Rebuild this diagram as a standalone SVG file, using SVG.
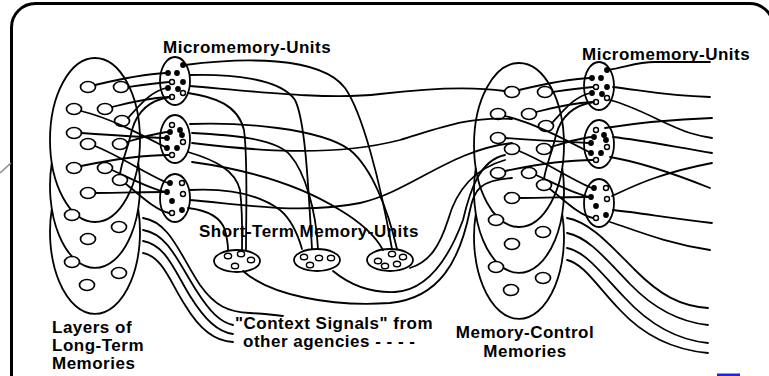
<svg xmlns="http://www.w3.org/2000/svg" width="769" height="376" viewBox="0 0 769 376">
<style>
.ln{fill:none;stroke:#000;stroke-width:1.8;stroke-linecap:round}
.el{fill:none;stroke:#000;stroke-width:1.8}
.cell{fill:#fff;stroke:#000;stroke-width:1.7}
.dot{fill:#000}
.od{fill:#fff;stroke:#000;stroke-width:1.4}
.t{font-family:"Liberation Sans",Arial,sans-serif;font-weight:bold;font-size:17px;letter-spacing:0.5px;fill:#000}
</style>
<defs>
<g id="layers">
<ellipse class="el" cx="95" cy="140" rx="45" ry="82"/>
<path class="el" d="M51.8,163 A45,82 0 1 0 138.2,163"/>
<path class="el" d="M51.8,209 A45,82 0 1 0 138.2,209"/>
<g class="cell">
<ellipse cx="88" cy="87" rx="7.5" ry="5.5"/><ellipse cx="121" cy="87" rx="7.5" ry="5.5"/>
<ellipse cx="74" cy="109" rx="7.5" ry="5.5"/><ellipse cx="105" cy="109" rx="7.5" ry="5.5"/>
<ellipse cx="122" cy="121" rx="7.5" ry="5.5"/><ellipse cx="74" cy="133" rx="7.5" ry="5.5"/>
<ellipse cx="88" cy="144" rx="7.5" ry="5.5"/><ellipse cx="120" cy="144" rx="7.5" ry="5.5"/>
<ellipse cx="74" cy="168" rx="7.5" ry="5.5"/><ellipse cx="105" cy="168" rx="7.5" ry="5.5"/>
<ellipse cx="120" cy="180" rx="7.5" ry="5.5"/><ellipse cx="88" cy="193" rx="7.5" ry="5.5"/>
<ellipse cx="72" cy="215" rx="7.5" ry="5.5"/><ellipse cx="119" cy="227" rx="7.5" ry="5.5"/>
<ellipse cx="88" cy="239" rx="7.5" ry="5.5"/><ellipse cx="72" cy="262" rx="7.5" ry="5.5"/>
<ellipse cx="119" cy="273" rx="7.5" ry="5.5"/><ellipse cx="87" cy="285" rx="7.5" ry="5.5"/>
</g>
</g>
<g id="micro1">
<ellipse class="el" cx="175" cy="81" rx="15" ry="24"/>
<circle class="dot" cx="183" cy="65" r="2.9"/><circle class="dot" cx="168" cy="73" r="2.9"/><circle class="dot" cx="177" cy="73" r="2.9"/>
<circle class="od" cx="172" cy="82" r="2.5"/><circle class="dot" cx="183" cy="82" r="2.9"/><circle class="dot" cx="168" cy="88" r="2.9"/>
<circle class="dot" cx="178" cy="89" r="2.9"/><circle class="od" cx="183" cy="93" r="2.5"/><circle class="od" cx="172" cy="97" r="2.5"/>
</g>
<g id="micro2">
<ellipse class="el" cx="175" cy="139" rx="15" ry="24"/>
<circle class="od" cx="172" cy="125" r="2.5"/><circle class="dot" cx="180" cy="130" r="2.9"/><circle class="dot" cx="170" cy="132" r="2.9"/>
<circle class="dot" cx="167" cy="138" r="2.9"/><circle class="dot" cx="182" cy="135" r="2.9"/><circle class="od" cx="183" cy="142" r="2.5"/>
<circle class="dot" cx="167" cy="148" r="2.9"/><circle class="dot" cx="177" cy="148" r="2.9"/><circle class="od" cx="172" cy="155" r="2.5"/>
</g>
<g id="micro3">
<ellipse class="el" cx="175" cy="198" rx="15" ry="24"/>
<circle class="dot" cx="170" cy="183" r="2.9"/><circle class="od" cx="182" cy="183" r="2.5"/><circle class="dot" cx="167" cy="192" r="2.9"/>
<circle class="od" cx="183" cy="194" r="2.5"/><circle class="dot" cx="172" cy="201" r="2.9"/><circle class="dot" cx="182" cy="210" r="2.9"/>
<circle class="od" cx="172" cy="213" r="2.5"/>
</g>
<g id="inner">
<path class="ln" d="M95,85 C120,79 145,74 166,73"/>
<path class="ln" d="M128.5,87 C142,85 155,83 169,82"/>
<path class="ln" d="M81,111 C110,118 140,134 165,147"/>
<path class="ln" d="M112,107 C135,101 150,98 169,97"/>
<path class="ln" d="M128,118 C140,105 150,92 166,88"/>
<path class="ln" d="M81.5,133 C110,135 140,137 165,138"/>
<path class="ln" d="M95,146 C120,156 148,175 168,183"/>
<path class="ln" d="M127,142 C140,138 155,133 168,132"/>
<path class="ln" d="M81,166 C110,160 140,155 169,155"/>
<path class="ln" d="M112,170 C130,178 148,188 165,192"/>
<path class="ln" d="M126,184 C140,195 155,210 169,213"/>
<path class="ln" d="M95.5,193 C120,193 145,192 165,192"/>
<path class="ln" d="M170,97 C150,100 137,112 132,130 C128,148 122,160 120,174"/>
</g>
</defs>

<rect x="11.5" y="3.5" width="762" height="420" rx="24" fill="none" stroke="#000" stroke-width="3"/>
<path d="M0,173 L11,163" stroke="#8a8a8a" stroke-width="1.5" fill="none"/>
<rect x="717" y="373.5" width="23" height="3" fill="#2020f0"/>

<g id="ltm-layers"><use href="#layers"/></g>
<g id="micro-left-1"><use href="#micro1"/></g>
<g id="micro-left-2"><use href="#micro2"/></g>
<g id="micro-left-3"><use href="#micro3"/></g>

<g id="memory-control" transform="translate(424,5)"><use href="#layers"/></g>
<g id="micro-right-1" transform="translate(424,5)"><use href="#micro1"/></g>
<g id="micro-right-2" transform="translate(424,5)"><use href="#micro2"/></g>
<g id="micro-right-3" transform="translate(424,5)"><use href="#micro3"/></g>

<g id="stm-1">
<ellipse class="el" cx="237" cy="261" rx="23" ry="11"/>
<ellipse class="od" cx="228" cy="256" rx="3.6" ry="2.8"/><ellipse class="od" cx="241" cy="254" rx="3.6" ry="2.8"/>
<ellipse class="od" cx="251" cy="260" rx="3.6" ry="2.8"/><ellipse class="od" cx="235" cy="266" rx="3.6" ry="2.8"/>
</g>
<g id="stm-2">
<ellipse class="el" cx="317" cy="260" rx="23" ry="11"/>
<ellipse class="od" cx="304" cy="257" rx="3.6" ry="2.8"/><ellipse class="od" cx="319" cy="258" rx="3.6" ry="2.8"/>
<ellipse class="od" cx="331" cy="258" rx="3.6" ry="2.8"/><ellipse class="od" cx="310" cy="265" rx="3.6" ry="2.8"/>
</g>
<g id="stm-3">
<ellipse class="el" cx="390" cy="260" rx="23" ry="11"/>
<ellipse class="od" cx="378" cy="261" rx="3.6" ry="2.8"/><ellipse class="od" cx="392" cy="254" rx="3.6" ry="2.8"/>
<ellipse class="od" cx="403" cy="257" rx="3.6" ry="2.8"/><ellipse class="od" cx="385" cy="266" rx="3.6" ry="2.8"/>
<ellipse class="od" cx="397" cy="264" rx="3.6" ry="2.8"/>
</g>

<g id="connectors">
<use href="#inner"/>
<use href="#inner" transform="translate(424,5)"/>
<path class="ln" d="M185,65 C240,58 320,55 345,88 C362,112 380,180 392,249"/>
<path class="ln" d="M190,75 C230,74 280,78 295,100 C305,120 308,180 312,249"/>
<path class="ln" d="M190,86 C260,92 330,100 380,94 C430,88 470,86 504.5,91"/>
<path class="ln" d="M188,93 C215,97 238,105 244,130 C248,160 246,210 246,250"/>
<path class="ln" d="M190,124 C240,122 320,128 350,150 C372,168 388,210 397,249"/>
<path class="ln" d="M192,133 C230,135 275,138 290,155 C305,172 316,210 318,249"/>
<path class="ln" d="M192,143 C250,150 330,158 400,140 C440,128 470,116 512,119"/>
<path class="ln" d="M188,152 C215,160 235,170 240,190 C243,215 242,240 242,250"/>
<path class="ln" d="M190,190 C230,188 260,195 280,210 C292,220 298,235 302,249"/>
<path class="ln" d="M190,200 C240,204 300,215 360,203 C410,192 450,150 512,143"/>
<path class="ln" d="M188,208 C205,210 220,215 225,230 C227,238 228,245 228,250"/>
<path class="ln" d="M192,162 C250,170 300,185 340,210 C360,222 375,235 383,250"/>
<path class="ln" d="M243,271 C270,295 330,307 390,303 C440,298 460,260 470,210 C474,190 480,180 512,178"/>
<path class="ln" d="M333,271 C350,285 370,293 395,292 C430,290 450,255 463,220 C470,190 480,160 505,155"/>
<path class="ln" d="M410,268 C430,262 440,245 448,220 C455,195 470,170 505,160"/>
<path class="ln" d="M143,218 C170,222 180,255 200,285 C215,306 228,312 250,313 C265,314 275,315 283,316"/>
<path class="ln" d="M143,230 C168,234 178,262 196,290 C210,312 220,322 233,325"/>
<path class="ln" d="M143,241 C166,245 174,270 190,296 C205,320 218,332 233,334"/>
<path class="ln" d="M143,253 C163,257 170,282 185,305 C200,330 215,341 233,342"/>
<path class="ln" d="M567,218 C590,222 610,245 635,270 C660,295 680,306 708,308"/>
<path class="ln" d="M567,233 C588,237 605,258 630,284 C655,310 680,322 708,325"/>
<path class="ln" d="M567,248 C586,252 600,272 625,298 C650,325 678,340 708,343"/>
<path class="ln" d="M567,260 C584,264 596,285 620,310 C645,337 675,350 708,353"/>
<path class="ln" d="M607,70 C625,68 635,62 655,62 C680,62 700,62 710,62"/>
<path class="ln" d="M613,87 C640,90 665,96 710,97"/>
<path class="ln" d="M610,100 C640,108 665,125 690,133 C700,136 705,137 712,138"/>
<path class="ln" d="M605,128 C630,124 660,120 712,118"/>
<path class="ln" d="M613,137 C640,140 670,146 712,153"/>
<path class="ln" d="M610,157 C640,162 670,172 710,188"/>
<path class="ln" d="M612,196 C630,188 655,174 712,163"/>
<path class="ln" d="M613,210 C640,213 670,218 712,223"/>
<path class="ln" d="M610,222 C635,230 665,243 710,250"/>
</g>

<g id="labels">
<text class="t" x="163" y="53">Micromemory-Units</text>
<text class="t" x="582" y="60">Micromemory-Units</text>
<text class="t" x="199" y="237">Short-Term Memory-Units</text>
<text class="t" x="52" y="333">Layers of</text>
<text class="t" x="52" y="351">Long-Term</text>
<text class="t" x="52" y="369">Memories</text>
<text class="t" x="235" y="329">"Context Signals" from</text>
<text class="t" x="243" y="347">other agencies - - - -</text>
<text class="t" x="525" y="338" text-anchor="middle">Memory-Control</text>
<text class="t" x="525" y="357" text-anchor="middle">Memories</text>
</g>
</svg>
